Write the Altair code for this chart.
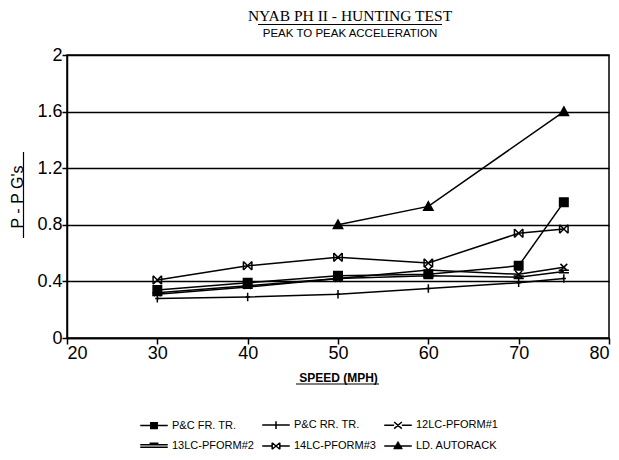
import altair as alt
import pandas as pd

speeds = [30, 40, 50, 60, 70, 75]
fr_tr = [0.34, 0.39, 0.44, 0.45, 0.51, 0.96]
rr_tr = [0.28, 0.29, 0.31, 0.35, 0.39, 0.42]
pform1 = [0.32, 0.37, 0.42, 0.48, 0.45, 0.50]
pform2 = [0.31, 0.36, 0.42, 0.44, 0.43, 0.47]
pform3 = [0.41, 0.51, 0.57, 0.53, 0.74, 0.77]
auto_speeds = [50, 60, 75]
autorack = [0.80, 0.93, 1.60]

names = ["P&C FR. TR.", "P&C RR. TR.", "12LC-PFORM#1",
         "13LC-PFORM#2", "14LC-PFORM#3", "LD. AUTORACK"]
title_text = "NYAB PH II - HUNTING TEST"
subtitle_text = "PEAK TO PEAK ACCELERATION"

rows = []
for name, vals in zip(names[:5], [fr_tr, rr_tr, pform1, pform2, pform3]):
    for s, v in zip(speeds, vals):
        rows.append({"series": name, "speed": s, "val": v})
for s, v in zip(auto_speeds, autorack):
    rows.append({"series": names[5], "speed": s, "val": v})
df = pd.DataFrame(rows)

markers = [
    "M-1,-1H1V1H-1Z",
    "M0,-1V1M-0.5,0H0.5",
    "M-0.8,-0.8L0.8,0.8M-0.8,0.8L0.8,-0.8",
    "M-1.2,-0.3H1.2M-1.2,0.3H1.2",
    "M-1,-1L1,1M-1,1L1,-1M-1,-1V1M1,-1V1",
    "M0,-1.1L1.1,0.9H-1.1Z",
]


def hatch(half_w_fn, y0, y1, n):
    # stroke-only shape built from horizontal strokes (so it reads as solid)
    parts = []
    for i in range(n):
        yy = y0 + (y1 - y0) * i / (n - 1)
        hw = half_w_fn(yy)
        parts.append("M%.3f,%.3fH%.3f" % (-hw, yy, hw))
    return "".join(parts)


sq = hatch(lambda v: 0.36, -0.26, 0.26, 7)
tri = hatch(lambda v: 0.05 + (v + 0.36) * 0.62, -0.36, 0.22, 7)
legend_syms = [
    "M-1.25,0H1.25" + sq,
    "M-1.25,0H1.25M0,-0.35V0.35",
    "M-1.25,0H-0.35M0.35,0H1.25M-0.35,-0.3L0.35,0.3M-0.35,0.3L0.35,-0.3",
    "M-1.25,-0.12H1.25M-1.25,0.12H1.25M-0.4,-0.25H0.4",
    "M-1.25,0H-0.35M0.35,0H1.25M-0.35,-0.3L0.35,0.3M-0.35,0.3L0.35,-0.3"
    "M-0.35,-0.3V0.3M0.35,-0.3V0.3",
    "M-1.25,0H1.25" + tri,
]

x = alt.X("speed:Q", scale=alt.Scale(domain=[20, 80], nice=False),
          axis=alt.Axis(values=[20, 30, 40, 50, 60, 70, 80], title="SPEED (MPH)",
                        grid=False, tickSize=6, tickColor="black", domainColor="black",
                        domainWidth=1.5, tickWidth=1.5, labelFontSize=18, labelColor="black",
                        labelFont="Liberation Sans", labelPadding=0,
                        titleFont="Liberation Sans", titleFontSize=12,
                        titleFontWeight="bold", titlePadding=10, titleColor="black"))
test = "abs(datum.value/0.4 - round(datum.value/0.4)) < 0.01"
y = alt.Y("val:Q", scale=alt.Scale(domain=[0, 2], nice=False),
          axis=alt.Axis(values=[0, 0.2, 0.4, 0.6, 0.8, 1.0, 1.2, 1.4, 1.6, 1.8, 2.0],
                        title="P - P G's", grid=True, gridColor="black",
                        gridOpacity={"condition": {"test": test, "value": 1}, "value": 0},
                        gridWidth=1.5, tickWidth=1.5,
                        tickSize={"condition": {"test": test, "value": 5}, "value": 3},
                        tickColor="black", domainColor="black", domainWidth=1.5,
                        labelExpr="(" + test + ") ? format(datum.value, '~g') : ''",
                        labelFontSize=18, labelColor="black", labelFont="Liberation Sans",
                        labelPadding=0,
                        titleFont="Liberation Sans", titleFontSize=16, titleColor="black",
                        titleFontWeight="normal", titlePadding=11))

base = alt.Chart(df)
lines = base.mark_line(color="black", strokeWidth=1.5).encode(
    x=x, y=y, detail="series:N")
points = base.mark_point(filled=True, color="black", stroke="black", strokeWidth=1.5,
                         opacity=1, size=72).encode(
    x="speed:Q", y="val:Q",
    shape=alt.Shape("series:N", scale=alt.Scale(domain=names, range=markers), legend=None))
legend_layer = base.mark_point(filled=False, color="black", strokeWidth=1.5,
                               opacity=0, size=484).encode(
    x="speed:Q", y="val:Q",
    shape=alt.Shape("series:N", scale=alt.Scale(domain=names, range=legend_syms),
                    legend=alt.Legend(title=None, orient="none", legendX=75, legendY=358,
                                      columns=3, direction="horizontal",
                                      symbolOpacity=1, symbolStrokeColor="black",
                                      symbolStrokeWidth=1.5,
                                      symbolSize=484, labelFont="Liberation Sans",
                                      labelFontSize=11, labelFontWeight="normal",
                                      labelColor="black", rowPadding=2, columnPadding=5,
                                      labelOffset=6)))

tdf = pd.DataFrame({"t": [title_text]})
sdf = pd.DataFrame({"t": [subtitle_text]})
title_mark = alt.Chart(tdf).mark_text(font="Liberation Serif", fontSize=15.5, color="black",
                                      align="center", baseline="alphabetic").encode(
    text="t:N", x=alt.value(283), y=alt.value(-34.5))
subtitle_mark = alt.Chart(sdf).mark_text(font="Liberation Sans", fontSize=11.5,
                                         color="black", align="center",
                                         baseline="alphabetic").encode(
    text="t:N", x=alt.value(283), y=alt.value(-18))

# underlines for title and axis titles
ul_title = alt.Chart(tdf).mark_rule(color="black", strokeWidth=1.2).encode(
    x=alt.value(191), x2=alt.value(375), y=alt.value(-30.5))
ul_x = alt.Chart(tdf).mark_rule(color="black", strokeWidth=1.2).encode(
    x=alt.value(229), x2=alt.value(312), y=alt.value(329))
ul_y = alt.Chart(tdf).mark_rule(color="black", strokeWidth=1.2).encode(
    x=alt.value(-43.5), y=alt.value(97), y2=alt.value(183))

chart = alt.layer(lines, points, legend_layer, title_mark, subtitle_mark,
                  ul_title, ul_x, ul_y).resolve_scale(
    shape="independent"
).properties(
    width=542, height=283,
    autosize=alt.AutoSizeParams(type="none"),
    padding={"left": 59, "top": 47, "right": 2, "bottom": 115},
).configure_view(stroke="black", strokeWidth=1.5)

chart.save("out.html", embed_options={"renderer": "svg", "actions": False})
